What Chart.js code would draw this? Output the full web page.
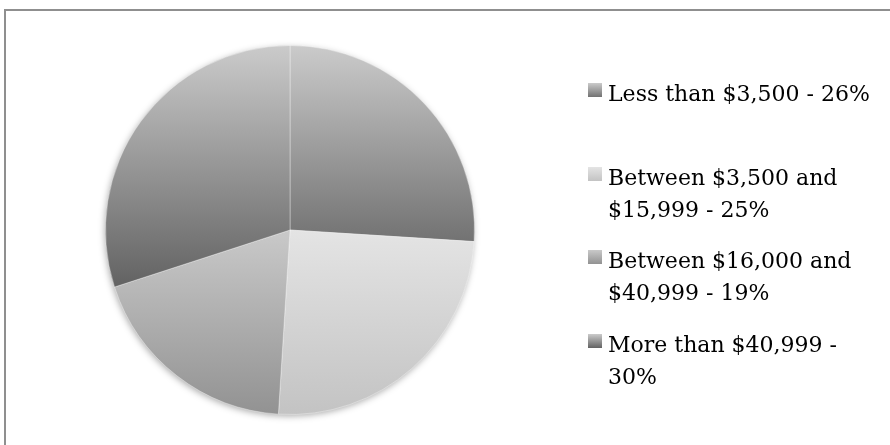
<!DOCTYPE html>
<html>
<head>
<meta charset="utf-8">
<script src="https://cdn.jsdelivr.net/npm/chart.js@4.4.1/dist/chart.umd.min.js"></script>
<style>
  html, body { margin: 0; padding: 0; background: #fff; }
  #page { position: relative; width: 890px; height: 445px; overflow: hidden; }
  #frame {
    position: absolute; left: 4px; top: 9px; width: 1000px; height: 600px;
    border: 2px solid #8f8f8f; box-sizing: border-box;
  }
  #wrap { position: absolute; left: 0; top: 0; width: 890px; height: 445px; }
  #legend {
    position: absolute; left: 588px; top: 78px; margin: 0; padding: 0; list-style: none;
    font-family: "DejaVu Serif", serif; font-size: 22px; line-height: 32px; color: #000;
  }
  #legend li { position: relative; height: 83.5px; padding-left: 20px; width: 272px; }
  #legend .box { position: absolute; left: 0; top: 5px; width: 14px; height: 14px; }
</style>
</head>
<body>
<div id="page">
  <div id="frame"></div>
  <div id="wrap"><canvas id="incomeChart"></canvas></div>
  <ul id="legend"></ul>
</div>
<script>
  const categories = ['Less than $3,500', 'Between $3,500 and $15,999', 'Between $16,000 and $40,999', 'More than $40,999'];
  const shares = [26, 25, 19, 30];

  // each slice fades from a light top to a darker bottom
  const topShades = ['#cbcbcb', '#e4e4e4', '#c9c9c9', '#cbcbcb'];
  const bottomShades = ['#727272', '#c3c3c3', '#929292', '#626262'];

  const total = shares.reduce((a, b) => a + b, 0);

  function sliceGradient(context) {
    const chart = context.chart;
    const area = chart.chartArea;
    const i = context.dataIndex;
    if (!area || i === undefined) return topShades[i || 0];
    const cx = (area.left + area.right) / 2;
    const cy = (area.top + area.bottom) / 2;
    const r = Math.min(area.width, area.height) / 2;
    const before = shares.slice(0, i).reduce((a, b) => a + b, 0);
    const a0 = -Math.PI / 2 + before / total * 2 * Math.PI;
    const a1 = a0 + shares[i] / total * 2 * Math.PI;
    let top = cy, bottom = cy;
    for (let k = 0; k <= 90; k++) {
      const y = cy + r * Math.sin(a0 + (a1 - a0) * k / 90);
      top = Math.min(top, y);
      bottom = Math.max(bottom, y);
    }
    const g = chart.ctx.createLinearGradient(0, top, 0, bottom);
    g.addColorStop(0, topShades[i]);
    g.addColorStop(1, bottomShades[i]);
    return g;
  }

  // soft shadow under the whole pie
  const pieShadow = {
    id: 'pieShadow',
    beforeDatasetsDraw(chart) {
      const arc = chart.getDatasetMeta(0).data[0];
      if (!arc) return;
      const ctx = chart.ctx;
      ctx.save();
      ctx.shadowColor = 'rgba(0,0,0,0.35)';
      ctx.shadowBlur = 7;
      ctx.shadowOffsetX = -1;
      ctx.shadowOffsetY = 2;
      ctx.fillStyle = '#bbb';
      ctx.beginPath();
      ctx.arc(arc.x, arc.y, arc.outerRadius - 0.5, 0, Math.PI * 2);
      ctx.fill();
      ctx.restore();
    }
  };

  new Chart(document.getElementById('incomeChart').getContext('2d'), {
    type: 'pie',
    data: {
      labels: categories,
      datasets: [{
        data: shares,
        backgroundColor: sliceGradient,
        borderColor: 'rgba(255,255,255,0.35)',
        borderWidth: 1
      }]
    },
    options: {
      responsive: true,
      maintainAspectRatio: false,
      animation: false,
      layout: { padding: { left: 105, right: 415, top: 45, bottom: 30 } },
      plugins: {
        legend: { display: false },
        tooltip: { enabled: false }
      }
    },
    plugins: [pieShadow]
  });

  // legend on the right, one slot per category
  const legend = document.getElementById('legend');
  categories.forEach((name, i) => {
    const li = document.createElement('li');
    const box = document.createElement('span');
    box.className = 'box';
    box.style.background = 'linear-gradient(' + topShades[i] + ', ' + bottomShades[i] + ')';
    li.appendChild(box);
    li.appendChild(document.createTextNode(name + ' - ' + shares[i] + '%'));
    legend.appendChild(li);
  });
</script>
</body>
</html>
